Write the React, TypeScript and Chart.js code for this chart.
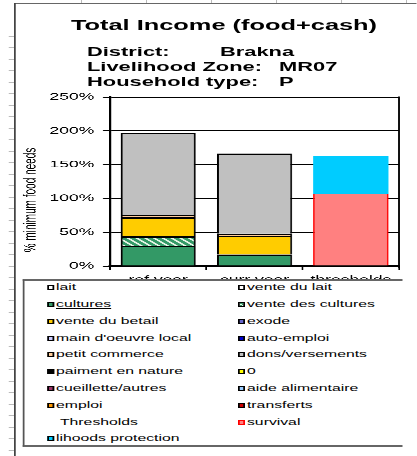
import React, { useEffect, useRef } from 'react';
import { Chart, registerables } from 'chart.js';

Chart.register(...registerables);

// ---------- data ----------
const categories = ['ref year', 'curr year', 'thresholds'];

const seriesNames = [
  'lait', 'vente du lait', 'cultures', 'vente des cultures', 'vente du betail', 'exode',
  "main d'oeuvre local", 'auto-emploi', 'petit commerce', 'dons/versements',
  'paiment en nature', '0', 'cueillette/autres', 'aide alimentaire', 'emploi', 'transferts',
  'Thresholds', 'survival', 'lihoods protection',
];

const seriesColors = [
  '#FFFFFF', '#FFFFFF', '#339966', 'hatch', '#FFCC00', '#6666CC',
  '#CCCCFF', '#0000CC', '#FFCC99', '#C0C0C0',
  '#000000', '#FFFF00', '#993366', '#99CCFF', '#FF9900', '#CC0000',
  'none', '#FF8080', '#00CCFF',
];

const empty: (number | null)[] = [null, null, null];
const cultures = [0.30, 0.17, null];
const venteDesCultures = [0.14, null, null];
const venteDuBetail = [0.28, 0.275, null];
const petitCommerce = [0.034, 0.035, null];
const donsVersements = [1.213, 1.184, null];
const survival = [null, null, 1.07];
const lihoodsProtection = [null, null, 0.553];

const seriesValues = [
  empty, empty, cultures, venteDesCultures, venteDuBetail, empty,
  empty, empty, petitCommerce, donsVersements,
  empty, empty, empty, empty, empty, empty,
  empty, survival, lihoodsProtection,
];

const yTicks = { min: 0, max: 2.5, step: 0.5 };
const chartTitle = 'Total Income (food+cash)';
const infoLabels = ['District:', 'Livelihood Zone:', 'Household type:'];
const infoValues = ['Brakna', 'MR07', 'P'];
const yTitle = '% minimum food needs';

// ---------- layout ----------
const S = 1.75; // horizontal stretch of the whole picture
const W0 = 417 / S;
const FONT = '"Liberation Sans", Arial, sans-serif';

function makeHatch(): CanvasPattern | string {
  const c = document.createElement('canvas');
  c.width = 15;
  c.height = 15;
  const g = c.getContext('2d');
  if (!g) return '#339966';
  g.fillStyle = '#339966';
  g.fillRect(0, 0, 15, 15);
  g.strokeStyle = '#E8F6E8';
  g.lineWidth = 4;
  for (const x of [-15, 0, 15]) {
    g.beginPath();
    g.moveTo(x, 0);
    g.lineTo(x + 15, 15);
    g.stroke();
  }
  const p = g.createPattern(c, 'repeat');
  if (!p) return '#339966';
  p.setTransform(new DOMMatrix([1 / 3, 0, 0, 1 / 3, 0, 0]));
  return p;
}

const decorPlugin = {
  id: 'decor',
  afterDraw(chart: any) {
    const { ctx, chartArea } = chart;
    ctx.save();
    ctx.strokeStyle = '#000';
    ctx.lineWidth = 1.2;
    ctx.beginPath();
    ctx.moveTo(chartArea.right, chartArea.top - 0.5);
    ctx.lineTo(chartArea.right, chartArea.bottom + 2);
    ctx.stroke();
    ctx.translate(17.7, (chartArea.top + chartArea.bottom) / 2 + 18.5);
    ctx.rotate(-Math.PI / 2);
    ctx.font = `10px ${FONT}`;
    ctx.fillStyle = '#000';
    ctx.textAlign = 'center';
    ctx.textBaseline = 'middle';
    ctx.fillText(yTitle, 0, 0);
    ctx.restore();
  },
};

export default function App() {
  const ref = useRef<HTMLCanvasElement | null>(null);

  useEffect(() => {
    const canvas = ref.current;
    if (!canvas) return;
    const hatch = makeHatch();
    const datasets = seriesNames.map((name, i) => {
      let borderColor = '#000';
      let borderWidth: any = { left: 1.1, right: 1.1, top: 1.4, bottom: 1.4 };
      if (name === 'survival') {
        borderColor = '#FF0000';
        borderWidth = { left: 0.9, right: 0.9, top: 0, bottom: 0 };
      } else if (name === 'lihoods protection' || name === 'Thresholds') {
        borderWidth = 0;
      }
      const col = seriesColors[i];
      return {
        label: name,
        data: seriesValues[i],
        backgroundColor: col === 'hatch' ? hatch : col === 'none' ? 'rgba(0,0,0,0)' : col,
        borderColor,
        borderWidth,
        categoryPercentage: 1,
        barPercentage: 0.78,
      };
    });

    const chart = new Chart(canvas, {
      type: 'bar',
      data: { labels: categories, datasets: datasets as any },
      options: {
        responsive: false,
        animation: false,
        devicePixelRatio: 3,
        layout: { padding: { top: 97, right: 10, bottom: 0, left: 0 } },
        plugins: {
          legend: { display: false },
          title: { display: false },
          tooltip: { enabled: false },
        },
        scales: {
          x: {
            stacked: true,
            offset: true,
            grid: {
              display: true,
              drawOnChartArea: false,
              drawTicks: true,
              tickLength: 4,
              color: '#000',
              lineWidth: 1,
              offset: true,
            },
            border: { display: true, color: '#000', width: 1.5 },
            ticks: {
              color: '#000',
              font: { family: FONT, size: 10 },
              padding: 4,
              maxRotation: 0,
              autoSkip: false,
            },
            afterFit: (s: any) => {
              s.height = 20;
            },
          },
          y: {
            stacked: true,
            min: yTicks.min,
            max: yTicks.max,
            ticks: {
              stepSize: yTicks.step,
              color: '#000',
              font: { family: FONT, size: 10 },
              padding: 5,
              callback: (v: any) => `${Math.round(Number(v) * 100)}%`,
            },
            grid: { color: '#000', lineWidth: 1, tickLength: 4, drawTicks: true },
            border: { display: true, color: '#000', width: 1.2 },
            afterFit: (s: any) => {
              s.width = 110 / S;
            },
          },
        },
      },
      plugins: [decorPlugin],
    });
    return () => chart.destroy();
  }, []);

  const rowY = (r: number) => 287.7 + r * 16.8;

  return (
    <div
      style={{
        position: 'fixed',
        left: 0,
        top: 0,
        width: W0,
        height: 456,
        transform: `scaleX(${S})`,
        transformOrigin: '0 0',
        background: '#fff',
        fontFamily: FONT,
        overflow: 'hidden',
        color: '#000',
      }}
    >
      {/* sheet decorations */}
      <div style={{ position: 'absolute', left: 14 / S, top: 3, width: W0, height: 1, background: '#666' }} />
      <div style={{ position: 'absolute', left: 13.3 / S, top: 3, width: 2 / S, height: 460, background: '#444' }} />
      <div
        style={{
          position: 'absolute',
          left: 8.3 / S,
          top: 14,
          width: 5 / S,
          height: 450,
          backgroundImage: 'repeating-linear-gradient(to bottom, transparent 0px, transparent 10.5px, #bbb 10.5px, #bbb 11.5px)',
        }}
      />
      <div
        style={{
          position: 'absolute',
          left: 82 / S - 37.14,
          top: 0,
          width: W0,
          height: 3,
          backgroundImage: `repeating-linear-gradient(to right, transparent 0px, transparent ${37.14 - 0.6}px, #bbb ${37.14 - 0.6}px, #bbb 37.14px)`,
        }}
      />

      <canvas
        ref={ref}
        width={238}
        height={286}
        style={{ position: 'absolute', left: 0, top: 0, width: 238, height: 286 }}
      />

      {/* title */}
      <div
        style={{
          position: 'absolute',
          left: 224 / S - 100,
          top: 17,
          width: 200,
          textAlign: 'center',
          fontWeight: 'bold',
          fontSize: 14.5,
          lineHeight: '16px',
          whiteSpace: 'nowrap',
        }}
      >
        {chartTitle}
      </div>
      {infoLabels.map((lab, i) => (
        <React.Fragment key={lab}>
          <div
            style={{
              position: 'absolute',
              left: 87 / S,
              top: 45.2 + i * 15,
              fontWeight: 'bold',
              fontSize: 12.5,
              lineHeight: '15px',
              whiteSpace: 'nowrap',
            }}
          >
            {lab}
          </div>
          <div
            style={{
              position: 'absolute',
              left: (i === 0 ? 220 : 279) / S,
              top: 45.2 + i * 15,
              fontWeight: 'bold',
              fontSize: 12.5,
              lineHeight: '15px',
              whiteSpace: 'nowrap',
            }}
          >
            {infoValues[i]}
          </div>
        </React.Fragment>
      ))}

      {/* legend */}
      <div
        style={{
          position: 'absolute',
          left: 22 / S,
          top: 279,
          width: (402 - 22) / S,
          height: 168,
          boxSizing: 'border-box',
          borderTop: '2px solid #666',
          borderBottom: '2px solid #666',
          borderLeft: `${2 / S}px solid #555`,
          background: '#fff',
        }}
      />
      {seriesNames.map((name, i) => {
        const col = i % 2;
        const row = Math.floor(i / 2);
        const cy = rowY(row);
        const swX = (col === 0 ? 46.5 : 237.5) / S;
        const txX = name === 'Thresholds' ? 60 / S : (col === 0 ? 56 : 247) / S;
        const c = seriesColors[i];
        const bg =
          c === 'hatch'
            ? 'repeating-linear-gradient(45deg, #339966 0px, #339966 1.2px, #E8F6E8 1.2px, #E8F6E8 2px)'
            : c;
        return (
          <React.Fragment key={name}>
            {c !== 'none' && (
              <div
                style={{
                  position: 'absolute',
                  left: swX,
                  top: cy - 2.5,
                  width: 8 / S,
                  height: 5,
                  boxSizing: 'border-box',
                  border: `1px solid ${name === 'survival' ? '#FF0000' : '#000'}`,
                  borderLeftWidth: 0.6,
                  borderRightWidth: 0.6,
                  background: bg,
                }}
              />
            )}
            <div
              style={{
                position: 'absolute',
                left: txX,
                top: cy - 5.5,
                fontSize: 9,
                lineHeight: '10px',
                whiteSpace: 'nowrap',
                textDecoration: name === 'cultures' ? 'underline' : 'none',
              }}
            >
              {name}
            </div>
          </React.Fragment>
        );
      })}
    </div>
  );
}
